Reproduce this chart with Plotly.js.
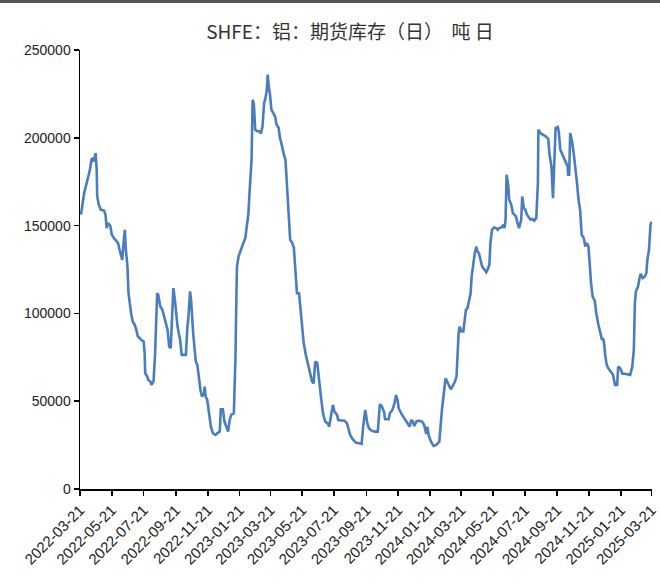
<!DOCTYPE html>
<html>
<head>
<meta charset="utf-8">
<script src="https://cdn.plot.ly/plotly-3.0.1.min.js"></script>
<style>html,body{margin:0;padding:0;background:#fff;}#chart{width:660px;height:586px;}</style>
</head>
<body>
<div id="chart"></div>
<script>
const dates = [
'2022-03-21','2022-03-23','2022-03-29','2022-04-03','2022-04-06','2022-04-09','2022-04-12','2022-04-14','2022-04-16','2022-04-20',
'2022-04-22','2022-04-23','2022-04-26','2022-04-30','2022-05-06','2022-05-09','2022-05-11','2022-05-14','2022-05-18','2022-05-21',
'2022-05-25','2022-05-30','2022-06-02','2022-06-05','2022-06-08','2022-06-10','2022-06-13','2022-06-15','2022-06-17','2022-06-20',
'2022-06-22','2022-06-25','2022-06-27','2022-06-30','2022-07-04','2022-07-07','2022-07-10','2022-07-14','2022-07-16','2022-07-21',
'2022-07-23','2022-07-24','2022-07-28','2022-07-30','2022-08-03','2022-08-05','2022-08-09','2022-08-12','2022-08-16','2022-08-18',
'2022-08-20','2022-08-22','2022-08-26','2022-08-30','2022-09-02','2022-09-05','2022-09-08','2022-09-11','2022-09-16','2022-09-19',
'2022-09-24','2022-09-29','2022-10-02','2022-10-10','2022-10-13','2022-10-15','2022-10-18','2022-10-20','2022-10-24','2022-10-27',
'2022-10-29','2022-11-01','2022-11-04','2022-11-07','2022-11-10','2022-11-14','2022-11-15','2022-11-17','2022-11-20','2022-11-22',
'2022-11-24','2022-11-27','2022-12-01','2022-12-06','2022-12-09','2022-12-14','2022-12-16','2022-12-20','2022-12-23','2022-12-27',
'2022-12-30','2023-01-02','2023-01-05','2023-01-10','2023-01-11','2023-01-13','2023-01-15','2023-01-16','2023-01-19','2023-01-22',
'2023-01-27','2023-02-01','2023-02-04','2023-02-07','2023-02-09','2023-02-11','2023-02-13','2023-02-15','2023-02-17','2023-02-18',
'2023-02-20','2023-02-24','2023-02-28','2023-03-03','2023-03-06','2023-03-09','2023-03-11','2023-03-14','2023-03-16','2023-03-18',
'2023-03-20','2023-03-23','2023-03-27','2023-03-30','2023-04-02','2023-04-06','2023-04-08','2023-04-11','2023-04-16','2023-04-19',
'2023-04-22','2023-04-26','2023-04-28','2023-05-02','2023-05-05','2023-05-08','2023-05-11','2023-05-15','2023-05-17','2023-05-21',
'2023-05-24','2023-05-28','2023-05-31','2023-06-03','2023-06-06','2023-06-09','2023-06-12','2023-06-15','2023-06-19','2023-06-22',
'2023-06-26','2023-06-30','2023-07-04','2023-07-09','2023-07-12','2023-07-15','2023-07-19','2023-07-22','2023-07-27','2023-07-29',
'2023-08-03','2023-08-10','2023-08-15','2023-08-17','2023-08-21','2023-08-26','2023-09-01','2023-09-07','2023-09-12','2023-09-15',
'2023-09-19','2023-09-23','2023-09-26','2023-10-01','2023-10-07','2023-10-13','2023-10-17','2023-10-21','2023-10-25','2023-10-27',
'2023-11-03','2023-11-05','2023-11-10','2023-11-14','2023-11-17','2023-11-20','2023-11-22','2023-11-27','2023-12-02','2023-12-07',
'2023-12-10','2023-12-13','2023-12-16','2023-12-19','2023-12-22','2023-12-26','2023-12-30','2024-01-06','2024-01-10','2024-01-14',
'2024-01-16','2024-01-19','2024-01-23','2024-01-28','2024-02-02','2024-02-04','2024-02-08','2024-02-13','2024-02-17','2024-02-20',
'2024-02-23','2024-02-27','2024-03-01','2024-03-04','2024-03-09','2024-03-12','2024-03-14','2024-03-16','2024-03-18','2024-03-21',
'2024-03-25','2024-03-28','2024-03-30','2024-04-02','2024-04-05','2024-04-08','2024-04-10','2024-04-13','2024-04-16','2024-04-19',
'2024-04-21','2024-04-24','2024-04-27','2024-04-30','2024-05-05','2024-05-08','2024-05-11','2024-05-14','2024-05-16','2024-05-19',
'2024-05-23','2024-05-27','2024-05-30','2024-06-02','2024-06-07','2024-06-10','2024-06-12','2024-06-14','2024-06-16','2024-06-19',
'2024-06-21','2024-06-25','2024-06-28','2024-07-01','2024-07-04','2024-07-07','2024-07-10','2024-07-14','2024-07-16','2024-07-19',
'2024-07-22','2024-07-25','2024-07-28','2024-08-01','2024-08-05','2024-08-08','2024-08-12','2024-08-15','2024-08-16','2024-08-20',
'2024-08-25','2024-08-30','2024-09-04','2024-09-06','2024-09-10','2024-09-13','2024-09-15','2024-09-18','2024-09-22','2024-09-24',
'2024-09-27','2024-10-01','2024-10-04','2024-10-08','2024-10-11','2024-10-12','2024-10-14','2024-10-16','2024-10-20','2024-10-23',
'2024-10-26','2024-10-29','2024-11-01','2024-11-04','2024-11-07','2024-11-11','2024-11-14','2024-11-17','2024-11-20','2024-11-22',
'2024-11-25','2024-11-28','2024-12-02','2024-12-05','2024-12-07','2024-12-09','2024-12-13','2024-12-16','2024-12-18','2024-12-20',
'2024-12-22','2024-12-25','2024-12-28','2025-01-02','2025-01-06','2025-01-10','2025-01-14','2025-01-16','2025-01-20','2025-01-24',
'2025-01-29','2025-02-08','2025-02-12','2025-02-15','2025-02-17','2025-02-19','2025-02-23','2025-02-26','2025-02-28','2025-03-04',
'2025-03-08','2025-03-11','2025-03-13','2025-03-16','2025-03-19','2025-03-21'
];
const inventory = [
157500,156500,168500,175000,177000,181800,187500,188500,186500,191300,
181800,166600,161900,159000,158600,156200,148600,151400,149900,144800,
142900,141000,140000,136200,133400,130500,141900,147600,136200,126700,
111500,103900,100100,95400,93500,90600,86800,85900,84900,84000,
77300,65900,64000,62100,61200,59300,61200,77300,111500,110600,
105800,103900,102000,97300,95400,90600,81100,80200,114400,107700,
92500,84900,76400,76400,92500,98200,112500,107700,88700,79200,
72600,70700,62100,56400,52600,54500,58300,52600,50700,46000,
40300,35500,31700,30800,31700,32700,45400,45400,38400,35500,
32700,39300,42200,43100,50700,73500,111500,126700,132400,135300,
139100,142900,149500,157100,168500,176100,187500,221700,219800,216000,
204600,203700,203700,202400,206500,219800,221700,226500,236000,229300,
225500,216000,213200,212200,207500,205600,200800,196100,190400,187500,
172300,157100,141900,140200,137500,124800,111500,111500,105800,94400,
83000,76400,72600,67800,65000,61200,60200,72600,71600,62100,
52600,43100,38400,37400,35500,41200,47900,44000,42200,39300,
39300,38900,37400,34600,30800,28300,26400,26000,25700,35500,
45000,37400,34600,33200,32700,32700,48400,46900,44000,39700,
39700,43100,45000,48800,53500,50700,46000,43100,40800,38400,
36400,35500,39300,38400,35900,38400,38900,38400,36400,31300,
35500,30200,27000,24500,25100,25700,27000,45000,56400,63100,
61200,58300,56800,58300,61200,64000,77300,88700,92500,89700,
89700,96300,102000,103000,107700,111500,121000,128600,134300,138100,
135300,134300,129600,126700,124800,123500,125200,127700,140000,147600,
148900,148600,147600,148600,149100,150500,148600,153300,179000,173300,
164700,161900,157100,156200,155200,151400,148600,153300,166600,160000,
159000,156200,155200,153300,153700,152800,154300,174200,204600,202700,
201700,200800,199300,191300,183700,165600,181800,205600,206200,203700,
193300,190400,188500,185600,183700,179000,179000,202700,197000,190400,
179900,174200,164700,159000,144800,142900,138100,140000,138100,128600,
117200,109600,107300,100100,96300,93500,88700,84900,85900,83000,
76400,70700,68800,66900,65000,59300,59300,69700,68800,65600,
65600,65000,69700,79200,105800,112500,115300,120100,122500,120100,
121000,122900,130500,136200,150500,152300
];
const tickDates = ['2022-03-21','2022-05-21','2022-07-21','2022-09-21','2022-11-21','2023-01-21','2023-03-21','2023-05-21','2023-07-21','2023-09-21','2023-11-21','2024-01-21','2024-03-21','2024-05-21','2024-07-21','2024-09-21','2024-11-21','2025-01-21','2025-03-21'];
const yTicks = [0,50000,100000,150000,200000,250000];
const titleText = 'SHFE：铝：期货库存（日）  吨 日';

const W = 660, H = 586, mL = 80, mR = 8, mT = 50, mB = 97;
const pw = W - mL - mR, ph = H - mT - mB;

const trace = {
  x: dates, y: inventory, type: 'scatter', mode: 'lines',
  line: {color: '#4a7dbd', width: 2.6}, hoverinfo: 'x+y'
};
const layout = {
  width: W, height: H,
  margin: {l: mL, r: mR, t: mT, b: mB, pad: 0},
  paper_bgcolor: '#fff', plot_bgcolor: '#fff',
  showlegend: false,
  title: {text: titleText, x: 350 / W, xref: 'container', xanchor: 'center', y: 1 - 32 / H, yref: 'container', yanchor: 'middle',
          font: {family: '"Noto Sans CJK SC", sans-serif', size: 19, color: '#333'}},
  xaxis: {
    type: 'date', range: ['2022-03-21 00:00', '2025-03-21 20:00'],
    tickvals: tickDates, ticktext: tickDates, tickangle: -45, ticklabeloverflow: 'allow',
    showgrid: false, zeroline: false, showline: true, linecolor: '#000', linewidth: 1.5,
    ticks: 'outside', ticklen: 5, tickwidth: 1.5, tickcolor: '#000',
    tickfont: {family: '"Liberation Sans", Arial, sans-serif', size: 15, color: '#222'}
  },
  yaxis: {
    range: [0, 250000], tickvals: yTicks, tickformat: 'd',
    showgrid: false, zeroline: false, showline: true, linecolor: '#000', linewidth: 1.5,
    ticks: 'outside', ticklen: 5, tickwidth: 1.5, tickcolor: '#000',
    tickfont: {family: '"Liberation Sans", Arial, sans-serif', size: 14, color: '#222'}
  },
  shapes: [{type: 'rect', xref: 'paper', yref: 'paper', x0: -mL / pw, x1: 1 + mR / pw, y0: 1 + (mT - 3) / ph, y1: 1 + mT / ph,
            fillcolor: '#555', line: {width: 0}}]
};
Plotly.newPlot('chart', [trace], layout, {displayModeBar: false, staticPlot: true});
</script>
</body>
</html>
